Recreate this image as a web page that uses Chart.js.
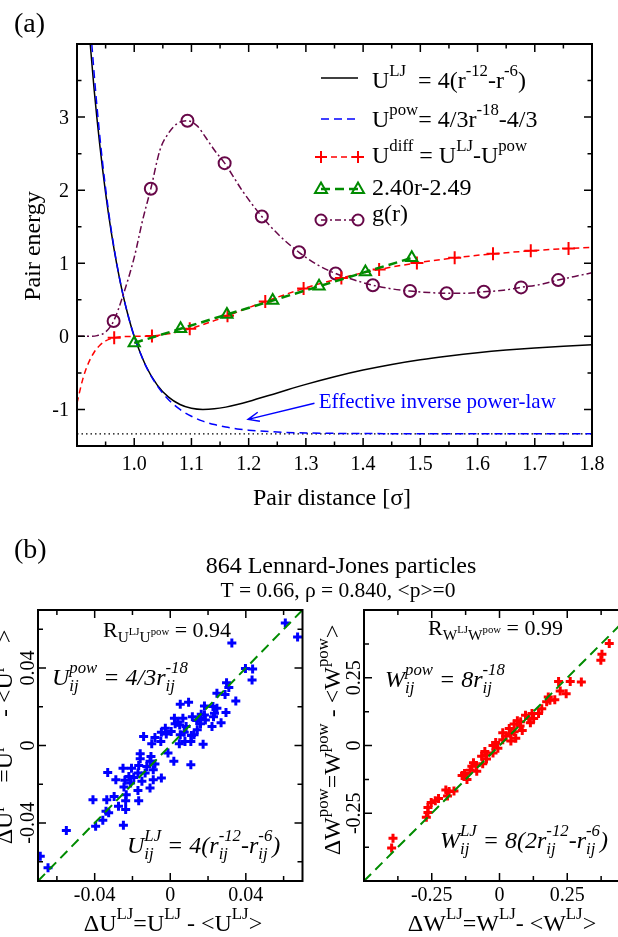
<!DOCTYPE html>
<html>
<head>
<meta charset="utf-8">
<script src="https://cdn.jsdelivr.net/npm/chart.js@4.4.0/dist/chart.umd.min.js"></script>
<style>
  html, body { margin: 0; padding: 0; background: #fff; overflow: hidden; }
  body { width: 618px; height: 937px; position: relative; }
  canvas { position: absolute; }
</style>
</head>
<body>
<canvas id="pairChart" width="618" height="605" style="left:0;top:0"></canvas>
<canvas id="energyScatter" width="310" height="397" style="left:0;top:540px"></canvas>
<canvas id="virialScatter" width="340" height="397" style="left:310px;top:540px"></canvas>
<script>
// ---- (a) pair potentials ----
const rGrid = [0.90, 0.91, 0.92, 0.93, 0.94, 0.95, 0.96, 0.97, 0.98, 0.99, 1.00, 1.02, 1.04, 1.06, 1.08, 1.10, 1.12, 1.14, 1.16, 1.18, 1.20, 1.25, 1.30, 1.35, 1.40, 1.45, 1.50, 1.55, 1.60, 1.65, 1.70, 1.75, 1.80];
const uLJ = [6.636, 5.360, 4.283, 3.373, 2.607, 1.961, 1.418, 0.963, 0.582, 0.264, 0, -0.398, -0.663, -0.832, -0.932, -0.984, -1.000, -0.992, -0.968, -0.933, -0.891, -0.774, -0.657, -0.552, -0.461, -0.384, -0.320, -0.268, -0.224, -0.188, -0.159, -0.134, -0.114];
const uPow = [7.550, 5.948, 4.647, 3.590, 2.728, 2.024, 1.447, 0.974, 0.585, 0.265, 0, -0.400, -0.675, -0.866, -1.000, -1.093, -1.160, -1.207, -1.241, -1.266, -1.283, -1.309, -1.322, -1.327, -1.330, -1.331, -1.332, -1.333, -1.333, -1.333, -1.333, -1.333, -1.333];
const uDiff = [-0.914, -0.588, -0.364, -0.217, -0.121, -0.063, -0.029, -0.011, -0.003, -0.001, 0, 0.002, 0.012, 0.034, 0.068, 0.109, 0.160, 0.215, 0.273, 0.333, 0.392, 0.535, 0.665, 0.775, 0.869, 0.948, 1.012, 1.065, 1.109, 1.145, 1.174, 1.199, 1.219];
const rDiffMarks = [0.965, 1.031, 1.097, 1.163, 1.229, 1.296, 1.362, 1.428, 1.494, 1.560, 1.627, 1.693, 1.759];
const uDiffMarks = [-0.018, 0.006, 0.103, 0.282, 0.477, 0.655, 0.800, 0.915, 1.005, 1.075, 1.129, 1.170, 1.203];
const rFit = [1.000, 1.081, 1.162, 1.242, 1.323, 1.404, 1.485];
const fitVals = [-0.090, 0.104, 0.299, 0.491, 0.685, 0.880, 1.074];
const rG = [0.90, 0.92, 0.935, 0.95, 0.964, 0.98, 1.00, 1.015, 1.029, 1.045, 1.06, 1.075, 1.093, 1.11, 1.125, 1.14, 1.158, 1.19, 1.223, 1.255, 1.288, 1.32, 1.352, 1.385, 1.417, 1.45, 1.482, 1.515, 1.546, 1.58, 1.611, 1.645, 1.676, 1.71, 1.741, 1.77, 1.80];
const gVals = [0, 0, 0.01, 0.06, 0.21, 0.55, 1.08, 1.60, 2.02, 2.55, 2.78, 2.91, 2.95, 2.88, 2.72, 2.55, 2.37, 1.98, 1.64, 1.37, 1.15, 0.98, 0.86, 0.77, 0.70, 0.65, 0.62, 0.60, 0.59, 0.59, 0.61, 0.63, 0.67, 0.71, 0.77, 0.82, 0.87];
const rGMarks = [0.964, 1.029, 1.093, 1.158, 1.223, 1.288, 1.352, 1.417, 1.482, 1.546, 1.611, 1.676, 1.741];
const gMarks = [0.21, 2.02, 2.95, 2.37, 1.64, 1.15, 0.86, 0.70, 0.62, 0.59, 0.61, 0.67, 0.77];
const rLimit = [0.9, 1.8];
const uLimit = [-1.3333, -1.3333];

const pairXTicks = [1.0, 1.1, 1.2, 1.3, 1.4, 1.5, 1.6, 1.7, 1.8];
const pairXLabels = ['1.0', '1.1', '1.2', '1.3', '1.4', '1.5', '1.6', '1.7', '1.8'];
const pairXMinor = [0.95, 1.05, 1.15, 1.25, 1.35, 1.45, 1.55, 1.65, 1.75];
const pairYTicks = [-1, 0, 1, 2, 3];
const pairYLabels = ['-1', '0', '1', '2', '3'];
const pairYMinor = [-0.5, 0.5, 1.5, 2.5, 3.5];

// ---- (b) fluctuation scatter ----
const duLJ = [0.0609, 0.0674, 0.0326, 0.0398, 0.0436, 0.0433, 0.0298, 0.0310, 0.0247, 0.0290, 0.0347, 0.0097, 0.0053, 0.0181, 0.0226, 0.0234, 0.0295, 0.0022, 0.0067, 0.0117, 0.0152, 0.0164, 0.0181, 0.0140, 0.0269, 0.0221, 0.0160, 0.0026, 0.0050, 0.0084, -0.0026, 0.0005, -0.0021, -0.0047, -0.0050, -0.0141, 0.0053, 0.0112, 0.0126, 0.0078, 0.0109, 0.0048, 0.0174, -0.0098, -0.0012, 0.0019, 0.0109, -0.0159, -0.0159, -0.0102, -0.0107, -0.0124, -0.0081, -0.0167, -0.0205, -0.0250, -0.0331, -0.0090, -0.0047, -0.0090, -0.0150, -0.0171, -0.0219, -0.0240, -0.0288, -0.0210, -0.0107, -0.0171, -0.0245, -0.0233, -0.0297, -0.0167, -0.0236, -0.0336, -0.0409, -0.0274, -0.0236, -0.0340, -0.0326, -0.0357, -0.0395, -0.0248, -0.0550, -0.0688, -0.0647, 0.0040, 0.0074, 0.0143, 0.0247, 0.0229, 0.0186, -0.0133, -0.0193, -0.0081];
const duPow = [0.0633, 0.0561, 0.0530, 0.0398, 0.0395, 0.0338, 0.0324, 0.0300, 0.0270, 0.0264, 0.0230, 0.0223, 0.0213, 0.0204, 0.0201, 0.0167, 0.0170, 0.0141, 0.0141, 0.0149, 0.0141, 0.0161, 0.0158, 0.0129, 0.0118, 0.0098, 0.0112, 0.0112, 0.0106, 0.0098, 0.0089, 0.0072, 0.0060, 0.0069, 0.0021, 0.0046, 0.0055, 0.0052, 0.0055, 0.0021, 0.0021, 0.0009, 0.0007, 0.0009, -0.0039, -0.0082, -0.0100, -0.0043, -0.0069, -0.0057, -0.0082, -0.0108, -0.0096, -0.0103, -0.0117, -0.0117, -0.0139, -0.0125, -0.0168, -0.0177, -0.0185, -0.0142, -0.0160, -0.0180, -0.0177, -0.0194, -0.0220, -0.0232, -0.0215, -0.0254, -0.0263, -0.0285, -0.0285, -0.0280, -0.0280, -0.0314, -0.0331, -0.0340, -0.0348, -0.0386, -0.0417, -0.0412, -0.0439, -0.0572, -0.0632, 0.0120, 0.0069, 0.0081, 0.0192, 0.0149, 0.0132, -0.0142, -0.0165, 0.0041];
const dwLJ = [0.405, 0.378, 0.374, 0.302, 0.261, 0.218, 0.246, 0.224, 0.204, 0.180, 0.174, 0.156, 0.120, 0.108, 0.096, 0.114, 0.066, 0.054, 0.076, 0.084, 0.036, 0.042, 0.024, 0.060, 0.042, 0.012, -0.014, -0.024, -0.006, -0.024, -0.054, -0.048, -0.062, -0.086, -0.096, -0.108, -0.084, -0.129, -0.138, -0.120, -0.186, -0.198, -0.192, -0.225, -0.237, -0.264, -0.264, -0.270, -0.393, -0.398, 0.126, 0.144, 0.078, 0.012, 0.054, -0.048, -0.066, -0.102, -0.168, -0.252, 0.186];
const dwPow = [0.376, 0.337, 0.315, 0.234, 0.236, 0.236, 0.191, 0.201, 0.169, 0.179, 0.161, 0.136, 0.118, 0.100, 0.112, 0.084, 0.091, 0.079, 0.072, 0.055, 0.063, 0.043, 0.035, 0.027, 0.017, 0.021, 0.011, 0.000, -0.010, -0.028, -0.022, -0.050, -0.067, -0.074, -0.064, -0.091, -0.095, -0.103, -0.111, -0.125, -0.170, -0.164, -0.186, -0.196, -0.204, -0.229, -0.247, -0.265, -0.342, -0.378, 0.100, 0.118, 0.088, 0.047, 0.051, -0.034, -0.040, -0.077, -0.168, -0.210, 0.167];
const uDiag = [-0.07, 0.07];
const wDiag = [-0.5, 0.5];

const uTicks = [-0.04, 0, 0.04];
const uLabels = ['-0.04', '0', '0.04'];
const uMinor = [-0.06, -0.02, 0.02, 0.06];
const wTicks = [-0.25, 0, 0.25];
const wLabels = ['-0.25', '0', '0.25'];
const wMinor = [-0.375, -0.125, 0.125, 0.375];

const SERIF = '"Liberation Serif", "Times New Roman", serif';
const RED = '#ff0000', BLUE = '#0000ff', GREEN = '#008b00', MAROON = '#670748';

const pts = (xs, ys) => xs.map((v, i) => ({ x: v, y: ys[i] }));

// tiny markup: ^{..} superscript, _{..} subscript, consecutive ones stack
function parseRich(s, pos) {
    pos = pos || 0;
    const nodes = [];
    let buf = '';
    while (pos < s.length && s[pos] !== '}') {
        const c = s[pos];
        if (c === '^' || c === '_') {
            if (buf) { nodes.push(buf); buf = ''; }
            const node = {};
            while (pos < s.length && (s[pos] === '^' || s[pos] === '_')) {
                const key = s[pos] === '^' ? 'sup' : 'sub';
                pos++;
                if (s[pos] === '{') {
                    const r = parseRich(s, pos + 1);
                    node[key] = r.nodes;
                    pos = r.pos + 1;
                } else {
                    node[key] = [s[pos]];
                    pos++;
                }
            }
            nodes.push(node);
        } else {
            buf += c;
            pos++;
        }
    }
    if (buf) nodes.push(buf);
    return { nodes, pos };
}

function richRun(ctx, nodes, x, y, size, style, draw) {
    for (const n of nodes) {
        if (typeof n === 'string') {
            ctx.font = `${style} ${size}px ${SERIF}`;
            if (draw) ctx.fillText(n, x, y);
            x += ctx.measureText(n).width;
        } else {
            const small = size * 0.7;
            let w = 0;
            if (n.sup) w = Math.max(w, richRun(ctx, n.sup, x, y - size * 0.48, small, style, draw) - x);
            if (n.sub) w = Math.max(w, richRun(ctx, n.sub, x, y + size * 0.24, small, style, draw) - x);
            x += w;
        }
    }
    return x;
}

function richText(ctx, str, x, y, o) {
    const size = o.size || 20;
    const style = o.style || 'normal';
    const nodes = parseRich(str).nodes;
    ctx.save();
    ctx.fillStyle = o.color || '#000';
    ctx.textBaseline = 'alphabetic';
    ctx.textAlign = 'left';
    ctx.translate(x, y);
    if (o.rotate) ctx.rotate(o.rotate);
    const w = richRun(ctx, nodes, 0, 0, size, style, false);
    const start = o.align === 'center' ? -w / 2 : o.align === 'right' ? -w : 0;
    richRun(ctx, nodes, start, 0, size, style, true);
    ctx.restore();
}

function drawAxes(chart, c) {
    const { ctx, chartArea: a } = chart;
    const xs = chart.scales.x, ys = chart.scales.y;
    ctx.save();
    ctx.strokeStyle = '#000';
    ctx.lineWidth = 1.5;
    ctx.beginPath();
    const xTick = (v, len) => {
        const px = xs.getPixelForValue(v);
        ctx.moveTo(px, a.bottom); ctx.lineTo(px, a.bottom - len);
        ctx.moveTo(px, a.top); ctx.lineTo(px, a.top + len);
    };
    const yTick = (v, len) => {
        const py = ys.getPixelForValue(v);
        ctx.moveTo(a.left, py); ctx.lineTo(a.left + len, py);
        ctx.moveTo(a.right, py); ctx.lineTo(a.right - len, py);
    };
    c.xMajor.forEach(v => xTick(v, c.majorLen));
    c.xMinor.forEach(v => xTick(v, c.minorLen));
    c.yMajor.forEach(v => yTick(v, c.majorLen));
    c.yMinor.forEach(v => yTick(v, c.minorLen));
    ctx.stroke();
    ctx.lineWidth = 2;
    ctx.strokeRect(a.left, a.top, a.right - a.left, a.bottom - a.top);

    ctx.fillStyle = '#000';
    ctx.font = `${c.tickSize}px ${SERIF}`;
    ctx.textBaseline = 'alphabetic';
    ctx.textAlign = 'center';
    c.xMajor.forEach((v, i) => ctx.fillText(c.xLabels[i], xs.getPixelForValue(v), a.bottom + c.xLabelDrop));
    c.yMajor.forEach((v, i) => {
        const py = ys.getPixelForValue(v);
        if (c.rotateY) {
            ctx.save();
            ctx.translate(a.left - c.yLabelGap, py);
            ctx.rotate(-Math.PI / 2);
            ctx.textAlign = 'center';
            ctx.fillText(c.yLabels[i], 0, 0);
            ctx.restore();
        } else {
            ctx.textAlign = 'right';
            ctx.fillText(c.yLabels[i], a.left - c.yLabelGap, py + c.tickSize * 0.34);
        }
    });
    ctx.restore();
}

function framePlugin(cfg) {
    return {
        id: 'frame',
        afterDraw(chart) {
            drawAxes(chart, cfg);
            const ctx = chart.ctx;
            ctx.save();
            ctx.translate(-cfg.ox, -cfg.oy);
            cfg.extras(chart, ctx);
            ctx.restore();
        }
    };
}

// legend markers
function mark(ctx, kind, x, y, color) {
    ctx.save();
    ctx.strokeStyle = color;
    ctx.lineWidth = 2;
    ctx.setLineDash([]);
    ctx.beginPath();
    if (kind === 'cross') {
        ctx.moveTo(x - 6, y); ctx.lineTo(x + 6, y);
        ctx.moveTo(x, y - 6); ctx.lineTo(x, y + 6);
    } else if (kind === 'triangle') {
        ctx.moveTo(x, y - 6.5); ctx.lineTo(x + 6, y + 4); ctx.lineTo(x - 6, y + 4); ctx.closePath();
    } else if (kind === 'circle') {
        ctx.arc(x, y, 5.5, 0, Math.PI * 2);
    }
    ctx.stroke();
    ctx.restore();
}

const legendRows = [
    { text: 'U^{LJ}  = 4(r^{-12}-r^{-6})', color: '#000', dash: [], width: 1.5, marker: null, lineY: 78, base: 88 },
    { text: 'U^{pow}= 4/3r^{-18}-4/3', color: BLUE, dash: [8, 5], width: 1.5, marker: null, lineY: 119, base: 126.5 },
    { text: 'U^{diff} = U^{LJ}-U^{pow}', color: RED, dash: [6, 4], width: 1.5, marker: 'cross', lineY: 157, base: 162.5 },
    { text: '2.40r-2.49', color: GREEN, dash: [9, 5], width: 2.5, marker: 'triangle', lineY: 189, base: 195 },
    { text: 'g(r)', color: MAROON, dash: [6, 3, 2, 3], width: 1.5, marker: 'circle', lineY: 220, base: 221 }
];

function pairExtras(chart, ctx) {
    const xs = chart.scales.x, ys = chart.scales.y;
    richText(ctx, '(a)', 14, 32, { size: 28 });
    richText(ctx, 'Pair distance [σ]', 332, 505, { size: 24, align: 'center' });
    richText(ctx, 'Pair energy', 40, 246, { size: 24, align: 'center', rotate: -Math.PI / 2 });

    legendRows.forEach(row => {
        ctx.save();
        ctx.strokeStyle = row.color;
        ctx.lineWidth = row.width;
        ctx.setLineDash(row.dash);
        ctx.beginPath();
        ctx.moveTo(321, row.lineY);
        ctx.lineTo(358, row.lineY);
        ctx.stroke();
        ctx.restore();
        if (row.marker) {
            mark(ctx, row.marker, 321, row.lineY, row.color);
            mark(ctx, row.marker, 358, row.lineY, row.color);
        }
        richText(ctx, row.text, 372, row.base, { size: 24 });
    });

    // arrow to the inverse power-law tail
    const x0 = xs.getPixelForValue(1.315), y0 = ys.getPixelForValue(-0.915);
    const x1 = xs.getPixelForValue(1.199), y1 = ys.getPixelForValue(-1.136);
    const ang = Math.atan2(y1 - y0, x1 - x0);
    ctx.save();
    ctx.strokeStyle = BLUE;
    ctx.lineWidth = 1.5;
    ctx.beginPath();
    ctx.moveTo(x0, y0); ctx.lineTo(x1, y1);
    ctx.moveTo(x1 - 12 * Math.cos(ang - 0.4), y1 - 12 * Math.sin(ang - 0.4));
    ctx.lineTo(x1, y1);
    ctx.lineTo(x1 - 12 * Math.cos(ang + 0.4), y1 - 12 * Math.sin(ang + 0.4));
    ctx.stroke();
    ctx.restore();
    richText(ctx, 'Effective inverse power-law', xs.getPixelForValue(1.3225), ys.getPixelForValue(-0.975), { size: 21, color: BLUE });

    // heading of panel (b)
    richText(ctx, '(b)', 14, 558, { size: 28 });
    richText(ctx, '864 Lennard-Jones particles', 341, 573, { size: 24, align: 'center' });
    richText(ctx, 'T = 0.66, ρ = 0.840, <p>=0', 338, 597, { size: 21.5, align: 'center' });
}

const lineBase = { pointRadius: 0, fill: false, cubicInterpolationMode: 'monotone' };

new Chart(document.getElementById('pairChart'), {
    type: 'line',
    data: {
        datasets: [
            { data: pts(rFit, fitVals), borderColor: GREEN, borderWidth: 2.5, borderDash: [9, 5], fill: false,
              pointStyle: 'triangle', pointRadius: 6.5, pointBorderWidth: 2, pointBorderColor: GREEN, pointBackgroundColor: 'rgba(0,0,0,0)' },
            { data: pts(rDiffMarks, uDiffMarks), showLine: false, pointStyle: 'cross', pointRadius: 6.5,
              pointBorderWidth: 2, pointBorderColor: RED, borderColor: RED },
            { ...lineBase, data: pts(rGrid, uDiff), borderColor: RED, borderWidth: 1.5, borderDash: [6, 4] },
            { data: pts(rGMarks, gMarks), showLine: false, pointStyle: 'circle', pointRadius: 6,
              pointBorderWidth: 2, pointBorderColor: MAROON, pointBackgroundColor: 'rgba(0,0,0,0)', borderColor: MAROON },
            { ...lineBase, data: pts(rG, gVals), borderColor: MAROON, borderWidth: 1.5, borderDash: [7, 3, 2, 3] },
            { ...lineBase, data: pts(rGrid, uPow), borderColor: BLUE, borderWidth: 1.5, borderDash: [8, 5] },
            { ...lineBase, data: pts(rGrid, uLJ), borderColor: '#000', borderWidth: 1.5 },
            { data: pts(rLimit, uLimit), pointRadius: 0, borderColor: '#000', borderWidth: 1.2, borderDash: [1.5, 3] }
        ]
    },
    options: {
        responsive: false,
        animation: false,
        layout: { padding: { left: 77, top: 44, right: 26, bottom: 159 } },
        elements: { line: { capBezierPoints: false } },
        scales: {
            x: { type: 'linear', min: 0.9, max: 1.8, display: false },
            y: { type: 'linear', min: -1.5, max: 4.0, display: false }
        },
        plugins: { legend: { display: false }, tooltip: { enabled: false } }
    },
    plugins: [framePlugin({
        ox: 0, oy: 0,
        xMajor: pairXTicks, xLabels: pairXLabels, xMinor: pairXMinor,
        yMajor: pairYTicks, yLabels: pairYLabels, yMinor: pairYMinor,
        majorLen: 8, minorLen: 4.5, tickSize: 20, xLabelDrop: 24, yLabelGap: 8, rotateY: false,
        extras: pairExtras
    })]
});

function scatterChart(id, cfg) {
    return new Chart(document.getElementById(id), {
        type: 'scatter',
        data: {
            datasets: [
                { data: pts(cfg.diag, cfg.diag), showLine: true, pointRadius: 0, borderColor: GREEN,
                  borderWidth: 2, borderDash: [10, 6] },
                { data: pts(cfg.xs, cfg.ys), pointStyle: 'cross', pointRadius: 4.5, pointBorderWidth: 3,
                  pointBorderColor: cfg.color, borderColor: cfg.color }
            ]
        },
        options: {
            responsive: false,
            animation: false,
            layout: { padding: cfg.padding },
            scales: {
                x: { type: 'linear', min: cfg.diag[0], max: cfg.diag[1], display: false },
                y: { type: 'linear', min: cfg.diag[0], max: cfg.diag[1], display: false }
            },
            plugins: { legend: { display: false }, tooltip: { enabled: false } }
        },
        plugins: [framePlugin({
            ox: cfg.ox, oy: 540,
            xMajor: cfg.ticks, xLabels: cfg.labels, xMinor: cfg.minor,
            yMajor: cfg.ticks, yLabels: cfg.labels, yMinor: cfg.minor,
            majorLen: 8, minorLen: 5, tickSize: 20, xLabelDrop: 20, yLabelGap: 4, rotateY: true,
            extras: cfg.extras
        })]
    });
}

scatterChart('energyScatter', {
    xs: duLJ, ys: duPow, diag: uDiag, color: BLUE,
    ticks: uTicks, labels: uLabels, minor: uMinor,
    ox: 0, padding: { left: 38, top: 70, right: 2, bottom: 56 },
    extras(chart, ctx) {
        richText(ctx, 'R_{U^{LJ}U^{pow}} = 0.94', 103, 637, { size: 22 });
        richText(ctx, 'U_{ij}^{pow} = 4/3r_{ij}^{-18}', 52, 685, { size: 24, style: 'italic' });
        richText(ctx, 'U_{ij}^{LJ} = 4(r_{ij}^{-12}-r_{ij}^{-6})', 127, 853, { size: 24, style: 'italic' });
        richText(ctx, 'ΔU^{LJ}=U^{LJ} - <U^{LJ}>', 173, 931, { size: 24, align: 'center' });
        richText(ctx, 'ΔU^{pow}=U^{pow} - <U^{pow}>', 12, 737, { size: 24, align: 'center', rotate: -Math.PI / 2 });
    }
});

scatterChart('virialScatter', {
    xs: dwLJ, ys: dwPow, diag: wDiag, color: RED,
    ticks: wTicks, labels: wLabels, minor: wMinor,
    ox: 310, padding: { left: 54, top: 70, right: 15, bottom: 56 },
    extras(chart, ctx) {
        richText(ctx, 'R_{W^{LJ}W^{pow}} = 0.99', 428, 635, { size: 22 });
        richText(ctx, 'W_{ij}^{pow} = 8r_{ij}^{-18}', 385, 687, { size: 24, style: 'italic' });
        richText(ctx, 'W_{ij}^{LJ} = 8(2r_{ij}^{-12}-r_{ij}^{-6})', 440, 848, { size: 24, style: 'italic' });
        richText(ctx, 'ΔW^{LJ}=W^{LJ}- <W^{LJ}>', 502, 931, { size: 24, align: 'center' });
        richText(ctx, 'ΔW^{pow}=W^{pow} - <W^{pow}>', 340, 740, { size: 24, align: 'center', rotate: -Math.PI / 2 });
    }
});
</script>
</body>
</html>
